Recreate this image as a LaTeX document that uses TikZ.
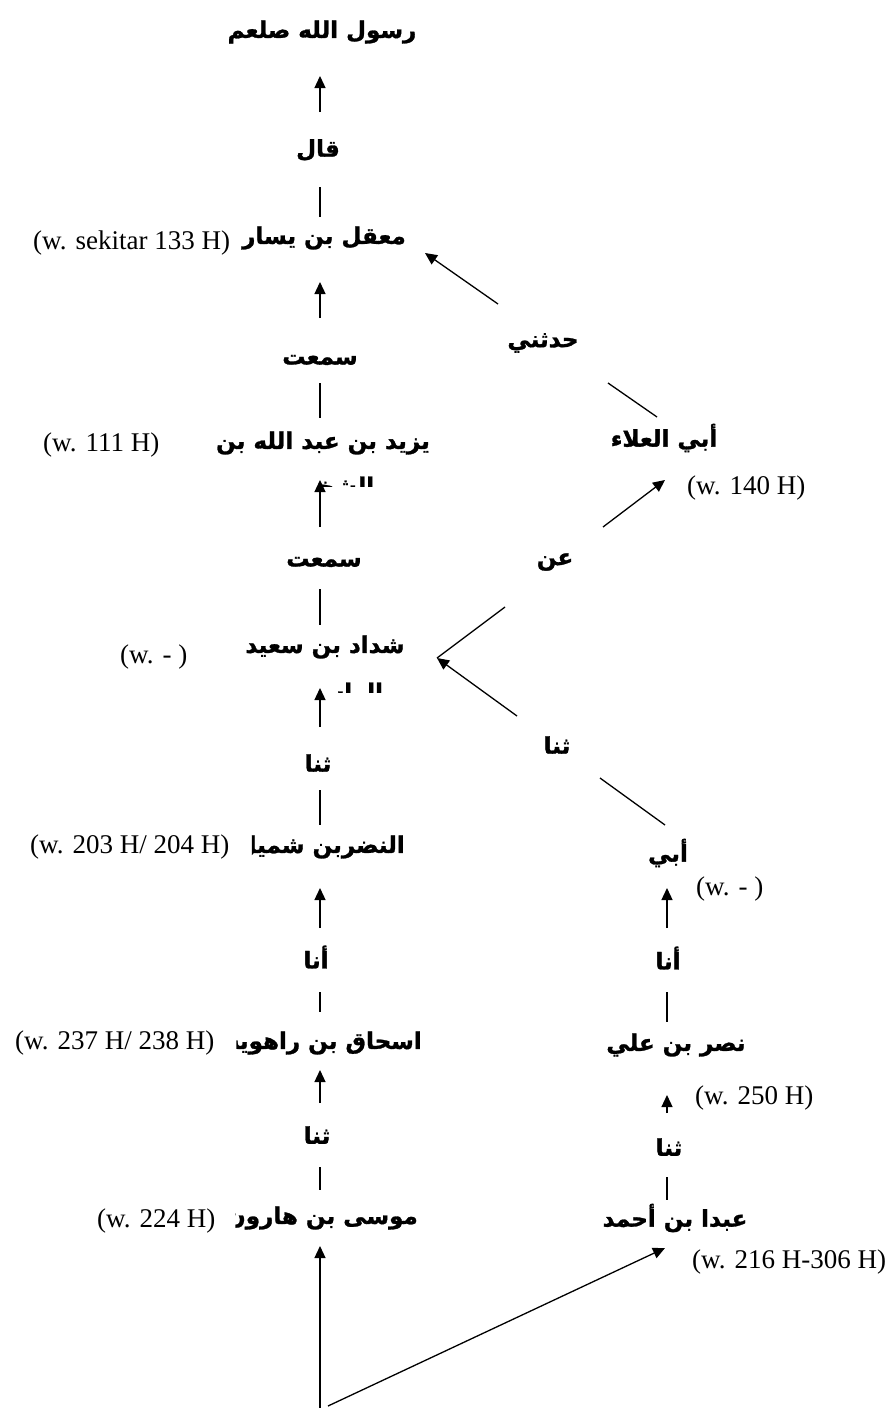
\documentclass[tikz,border=0pt]{standalone}
\usepackage{fontspec}
\setmainfont{Liberation Serif}
\newfontfamily\arfont[Script=Arabic,BoldFeatures={FakeBold=1.2}]{DejaVu Sans}
\TeXXeTstate=1
\usetikzlibrary{arrows.meta}
\newcommand\arsize{\fontsize{23}{27}\selectfont}
\newcommand\arb{\arfont\bfseries\arsize}
\newsavebox\nadrbox
\newsavebox\ishaqbox
\newsavebox\musabox
\newdimen\clipdim
\makeatletter
\newcommand\setclipx[3]{\clipdim=\dimexpr#1pt-\wd#2+#3pt\relax\edef\cx{\strip@pt\clipdim}}
\makeatother
\begin{document}
\sbox\nadrbox{\arb\beginR النضربن شميل\endR}%
\sbox\ishaqbox{\arb\beginR اسحاق بن راهويه\endR}%
\sbox\musabox{\arb\beginR موسى بن هارون\endR}%
\begin{tikzpicture}[x=1pt,y=-1pt,
  ar/.style={font=\arb, inner sep=0pt},
  lat/.style={font=\fontsize{27}{30}\selectfont, inner sep=0pt, anchor=west},
  arr/.style={line width=1.3pt, -{Triangle[length=12pt,width=11pt]}},
  ln/.style={line width=1.3pt}]
\useasboundingbox (0,0) rectangle (892,1408);
\fill[white] (0,0) rectangle (892,1408);

% ---- left column ----
\node[ar] (rasul) at (322,32) {\beginR رسول الله صلعم\endR};
\node[ar] (qal) at (318,150) {\beginR قال\endR};
\node[ar] (maqil) at (324,238) {\beginR معقل بن يسار\endR};
\node[ar] (samitu1) at (320,360) {\beginR سمعت\endR};
\node[ar] (yazid) at (323,443) {\beginR يزيد بن عبد الله بن\endR};
\begin{scope}
  \clip (250,465) rectangle (400,486);
  \node[ar,anchor=base] (yazid2) at (334,494) {\beginR الشخير\endR};
\end{scope}
\node[ar] (samitu2) at (324,562) {\beginR سمعت\endR};
\node[ar] (syaddad) at (325,647) {\beginR شداد بن سعيد\endR};
\begin{scope}
  \clip (250,675) rectangle (400,692);
  \node[ar,anchor=base] (syaddad2) at (336,700) {\beginR الراسبي\endR};
\end{scope}
\node[ar] (tsana1) at (318,763) {\beginR ثنا\endR};
\begin{scope}
  \setclipx{405}{\nadrbox}{15}
  \clip (\cx,820) rectangle (410,875);
  \node[ar,anchor=east] (nadr) at (405,847) {\usebox\nadrbox};
\end{scope}
\node[ar] (ana1) at (316,957) {\beginR أنا\endR};
\begin{scope}
  \setclipx{422}{\ishaqbox}{10}
  \clip (\cx,1015) rectangle (428,1072);
  \node[ar,anchor=east] (ishaq) at (422,1043) {\usebox\ishaqbox};
\end{scope}
\node[ar] (tsana2) at (317,1135) {\beginR ثنا\endR};
\begin{scope}
  \setclipx{418}{\musabox}{9}
  \clip (\cx,1192) rectangle (424,1245);
  \node[ar,anchor=east] (musa) at (418,1218) {\usebox\musabox};
\end{scope}

% ---- right column ----
\node[ar] (haddatsani) at (543,343) {\beginR حدثني\endR};
\node[ar] (abulala) at (664,438) {\beginR أبي العلاء\endR};
\node[ar] (an) at (555,562) {\beginR عن\endR};
\node[ar] (tsanar1) at (557,745) {\beginR ثنا\endR};
\node[ar] (abi) at (668,853) {\beginR أبي\endR};
\node[ar] (anar) at (668,958) {\beginR أنا\endR};
\node[ar] (nasr) at (676,1045) {\beginR نصر بن علي\endR};
\node[ar] (tsanar2) at (669,1147) {\beginR ثنا\endR};
\node[ar] (abdan) at (675,1218) {\beginR عبدا بن أحمد\endR};

% ---- dates ----
\node[lat] (w133) at (33,243) {(w. sekitar 133 H)};
\node[lat] (w111) at (43,445) {(w. 111 H)};
\node[lat] (wsy) at (120,657) {(w. - )};
\node[lat] (w203) at (30,847) {(w. 203 H/ 204 H)};
\node[lat] (w237) at (15,1043) {(w. 237 H/ 238 H)};
\node[lat] (w224) at (97,1221) {(w. 224 H)};
\node[lat] (w140) at (687,488) {(w. 140 H)};
\node[lat] (wabi) at (696,889) {(w. - )};
\node[lat] (w250) at (695,1098) {(w. 250 H)};
\node[lat] (w216) at (692,1262) {(w. 216 H-306 H)};

% ---- connector end points ----
\coordinate (c1a) at (320,112); \coordinate (c1b) at (320,76);
\coordinate (c2a) at (320,187); \coordinate (c2b) at (320,217);
\coordinate (c3a) at (320,318); \coordinate (c3b) at (320,282);
\coordinate (c4a) at (320,383); \coordinate (c4b) at (320,418);
\coordinate (c5a) at (320,527); \coordinate (c5b) at (320,480);
\coordinate (c6a) at (320,589); \coordinate (c6b) at (320,625);
\coordinate (c7a) at (320,727); \coordinate (c7b) at (320,688);
\coordinate (c8a) at (320,790); \coordinate (c8b) at (320,825);
\coordinate (c9a) at (320,928); \coordinate (c9b) at (320,888);
\coordinate (c10a) at (320,992); \coordinate (c10b) at (320,1012);
\coordinate (c11a) at (320,1103); \coordinate (c11b) at (320,1070);
\coordinate (c12a) at (320,1167); \coordinate (c12b) at (320,1190);
\coordinate (base) at (320,1408); \coordinate (c13b) at (320,1246);
\coordinate (base2) at (328,1406); \coordinate (c14b) at (665,1248);
\coordinate (d1a) at (498,304); \coordinate (d1b) at (425,253);
\coordinate (d2a) at (608,383); \coordinate (d2b) at (657,417);
\coordinate (d3a) at (603,527); \coordinate (d3b) at (665,480);
\coordinate (d4a) at (505,607); \coordinate (vtx) at (437,658);
\coordinate (d5a) at (517,716);
\coordinate (d6a) at (600,778); \coordinate (d6b) at (665,825);
\coordinate (r1a) at (667,928); \coordinate (r1b) at (667,888);
\coordinate (r2a) at (667,992); \coordinate (r2b) at (667,1022);
\coordinate (r3a) at (667,1113); \coordinate (r3b) at (667,1095);
\coordinate (r4a) at (667,1177); \coordinate (r4b) at (667,1200);

% ---- connectors ----
\draw[arr] (c1a) -- (c1b);
\draw[ln] (c2a) -- (c2b);
\draw[arr] (c3a) -- (c3b);
\draw[ln] (c4a) -- (c4b);
\draw[arr] (c5a) -- (c5b);
\draw[ln] (c6a) -- (c6b);
\draw[arr] (c7a) -- (c7b);
\draw[ln] (c8a) -- (c8b);
\draw[arr] (c9a) -- (c9b);
\draw[ln] (c10a) -- (c10b);
\draw[arr] (c11a) -- (c11b);
\draw[ln] (c12a) -- (c12b);
\draw[arr] (base) -- (c13b);
\draw[arr] (base2) -- (c14b);
\draw[arr] (d1a) -- (d1b);
\draw[ln] (d2a) -- (d2b);
\draw[arr] (d3a) -- (d3b);
\draw[ln] (d4a) -- (vtx);
\draw[arr] (d5a) -- (vtx);
\draw[ln] (d6a) -- (d6b);
\draw[arr] (r1a) -- (r1b);
\draw[ln] (r2a) -- (r2b);
\draw[arr] (r3a) -- (r3b);
\draw[ln] (r4a) -- (r4b);
\end{tikzpicture}
\end{document}
